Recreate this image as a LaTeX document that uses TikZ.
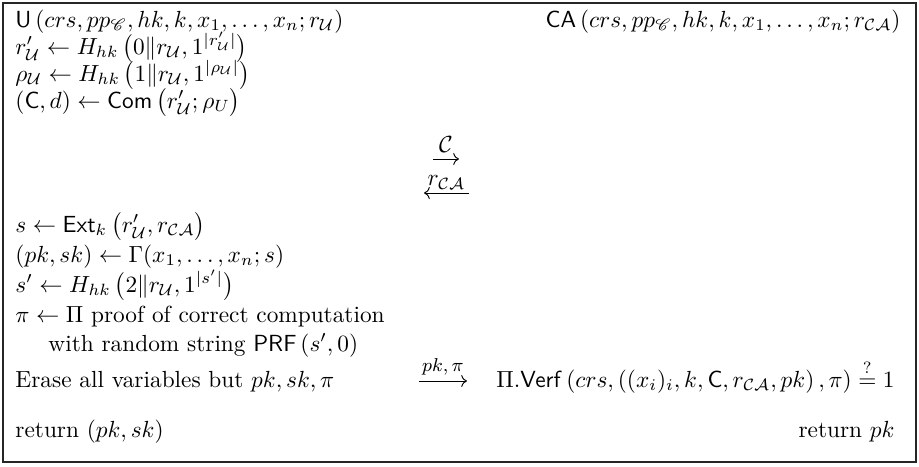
\documentclass[tikz,border=0pt]{standalone}
\usepackage{amsmath}
\usepackage{amssymb}
\usepackage{mathrsfs}
\usetikzlibrary{arrows.meta, positioning}
\newcommand{\ru}{r_{\mathcal{U}}}
\newcommand{\rpu}{r'_{\mathcal{U}}}
\newcommand{\rca}{r_{\mathcal{C}\mathcal{A}}}
\newcommand{\ppc}{pp_{\mathscr{C}}}
\newcommand{\bparen}[1]{\,\bigl(#1\bigr)}
\tikzset{
  lstep/.style={anchor=base west, inner sep=0pt},
  rstep/.style={anchor=base east, inner sep=0pt},
  msgarrow/.style={-{Computer Modern Rightarrow}, line width=0.4pt},
  msglabel/.style={inner sep=2.5pt},
  frame/.style={draw=black!85, line width=0.45pt}
}

\begin{document}
\begin{tikzpicture}[x=0.429pt, y=-0.429pt]
  \useasboundingbox (0,0) rectangle (919,466);
  \draw[frame] (3,3) rectangle (916,462);

  % User side
  \node[lstep] (uhead) at (15,27) {$\mathsf{U}\left(crs, \ppc, hk, k, x_1, \ldots, x_n; \ru\right)$};
  \node[lstep] (ur) at (15,54) {$\rpu \leftarrow H_{hk}\bparen{0\|\ru, 1^{|\rpu|}}$};
  \node[lstep] (urho) at (15,81) {$\rho_{\mathcal{U}} \leftarrow H_{hk}\bparen{1\|\ru, 1^{|\rho_{\mathcal{U}}|}}$};
  \node[lstep] (ucom) at (15,108) {$(\mathsf{C}, d) \leftarrow \mathsf{Com}\bparen{\rpu; \rho_U}$};
  \node[lstep] (uext) at (15,232) {$s \leftarrow \mathsf{Ext}_k\bparen{\rpu, \rca}$};
  \node[lstep] (ugen) at (15,262) {$(pk, sk) \leftarrow \Gamma(x_1, \ldots, x_n; s)$};
  \node[lstep] (useed) at (15,292) {$s' \leftarrow H_{hk}\bparen{2\|\ru, 1^{|s'|}}$};
  \node[lstep] (uproof) at (15,322) {$\pi \leftarrow \Pi$ proof of correct computation};
  \node[lstep] (uwith) at (48,351) {with random string $\mathsf{PRF}\left(s', 0\right)$};
  \node[lstep] (uerase) at (15,387) {Erase all variables but $pk, sk, \pi$};
  \node[lstep] (uret) at (15,437) {return $(pk, sk)$};

  % CA side
  \node[rstep] (cahead) at (901,27) {$\mathsf{CA}\left(crs, \ppc, hk, k, x_1, \ldots, x_n; \rca\right)$};
  \node[rstep] (caverf) at (895,387) {$\Pi.\mathsf{Verf}\left(crs, \left((x_i)_i, k, \mathsf{C}, \rca, pk\right), \pi\right) \stackrel{?}{=} 1$};
  \node[rstep] (caret) at (895,437) {return $pk$};

  % Messages
  \coordinate (m1a) at (433,159);
  \coordinate (m1b) at (459,159);
  \draw[msgarrow] (m1a) -- (m1b) node[midway, above, msglabel] {$\mathcal{C}$};
  \coordinate (m2a) at (469,193);
  \coordinate (m2b) at (424,193);
  \draw[msgarrow] (m2a) -- (m2b) node[midway, above, msglabel, inner sep=1.5pt] {$\rca$};
  \coordinate (m3a) at (419,381);
  \coordinate (m3b) at (467,381);
  \draw[msgarrow] (m3a) -- (m3b) node[midway, above, msglabel, font=\footnotesize] {$pk, \pi$};
\end{tikzpicture}
\end{document}
